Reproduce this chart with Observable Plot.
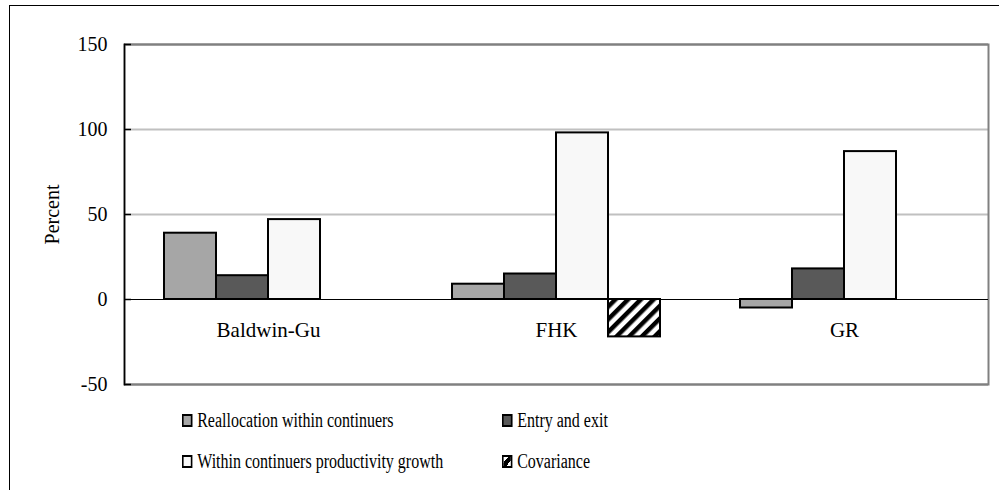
<!DOCTYPE html>
<html>
<head>
<meta charset="utf-8">
<script src="https://cdn.jsdelivr.net/npm/d3@7"></script>
<script src="https://cdn.jsdelivr.net/npm/@observablehq/plot@0.6"></script>
<style>
  html, body { margin: 0; padding: 0; background: #fff; }
  body { width: 999px; height: 490px; position: relative; overflow: hidden; font-family: "Liberation Serif", "Times New Roman", serif; }
  #outer { position: absolute; left: 9px; top: 5px; width: 1000px; height: 500px; border-top: 1.5px solid #000; border-left: 1.5px solid #000; }
  #chart { position: absolute; left: 0; top: 0; }
  #chart svg, #chart svg text { font-family: "Liberation Serif", "Times New Roman", serif !important; }
  #legend { position: absolute; left: 182px; top: 408px; display: grid; grid-template-columns: 400px auto; row-gap: 17px; font-size: 20px; color: #000; transform: scaleX(0.8); transform-origin: 0 0; }
  .item { display: flex; align-items: center; height: 24px; white-space: nowrap; }
  .sw { width: 13px; height: 13px; box-sizing: border-box; border: 2px solid #000; margin-right: 6px; }
</style>
</head>
<body>
<div id="outer"></div>
<div id="chart"></div>
<div id="legend"></div>
<script>
const categories = ["Baldwin-Gu", "FHK", "GR"];
const series = ["Reallocation within continuers", "Entry and exit", "Within continuers productivity growth", "Covariance"];
const reallocation = [39, 9, -5];
const entryExit = [14, 15, 18];
const withinGrowth = [47, 98, 87];
const covariance = [null, -22, null];
const yTicks = [-50, 0, 50, 100, 150];
const gridValues = [50, 100];
const seriesFills = ["#a6a6a6", "#595959", "#f8f8f8", "url(#hatch)"];
const legendSwatches = ["#a6a6a6", "#595959", "#f8f8f8", "linear-gradient(135deg, #fff 30%, #000 30%, #000 70%, #fff 70%)"];

const valuesBySeries = [reallocation, entryExit, withinGrowth, covariance];
const rows = [];
categories.forEach((c, i) => {
  series.forEach((s, j) => {
    const v = valuesBySeries[j][i];
    if (v !== null && v !== undefined) rows.push({category: c, series: s, value: v});
  });
});

const font = "Liberation Serif";

const plot = Plot.plot({
  width: 999,
  height: 400,
  marginLeft: 124,
  marginRight: 11,
  marginTop: 44,
  marginBottom: 16,
  style: {fontFamily: font, fontSize: "20px", color: "#000", background: "transparent"},
  fx: {domain: categories, padding: 0, axis: null},
  x: {domain: series, paddingInner: 0, paddingOuter: 0.753, axis: null},
  y: {domain: [-50, 150], axis: null},
  color: {domain: series, range: seriesFills, type: "ordinal"},
  marks: [
    Plot.ruleY(gridValues, {stroke: "#c0c0c0", strokeWidth: 2}),
    Plot.ruleY([150, -50], {stroke: "#808080", strokeWidth: 2}),
    Plot.frame({facet: "super", stroke: "#808080", strokeWidth: 2}),
    Plot.barY(rows, {fx: "category", x: "series", y: "value", fill: "series", stroke: "#000", strokeWidth: 2}),
    Plot.ruleY([0], {stroke: "#000", strokeWidth: 1.2}),
    Plot.text(categories, {fx: d => d, y: d => 0, text: d => d, dy: 31, fontSize: 21, fill: "#000"}),
    Plot.frame({facet: "super", anchor: "left", stroke: "#000", strokeWidth: 1.5}),
    Plot.axisY({ticks: yTicks, tickFormat: d => String(d), tickSize: 0, tickPadding: 17, fontSize: 20, label: "Percent", labelAnchor: "center", labelOffset: 80, labelArrow: "none"}),
    Plot.tickY(yTicks, {fx: d => categories[0], y: d => d, stroke: "#000", strokeWidth: 1.5, insetRight: 281})
  ]
});

// hatch pattern for the Covariance series
const svg = d3.select(plot);
const defs = svg.insert("defs", ":first-child");
const pat = defs.append("pattern")
  .attr("id", "hatch")
  .attr("patternUnits", "userSpaceOnUse")
  .attr("width", 9).attr("height", 9)
  .attr("patternTransform", "rotate(45)");
pat.append("rect").attr("width", 9).attr("height", 9).attr("fill", "#fff");
pat.append("rect").attr("width", 4.5).attr("height", 9).attr("fill", "#000");

document.getElementById("chart").appendChild(plot);

const legend = document.getElementById("legend");
series.forEach((s, i) => {
  const item = document.createElement("div");
  item.className = "item";
  const sw = document.createElement("span");
  sw.className = "sw";
  sw.style.background = legendSwatches[i];
  const label = document.createElement("span");
  label.textContent = s;
  item.appendChild(sw);
  item.appendChild(label);
  legend.appendChild(item);
});
</script>
</body>
</html>
